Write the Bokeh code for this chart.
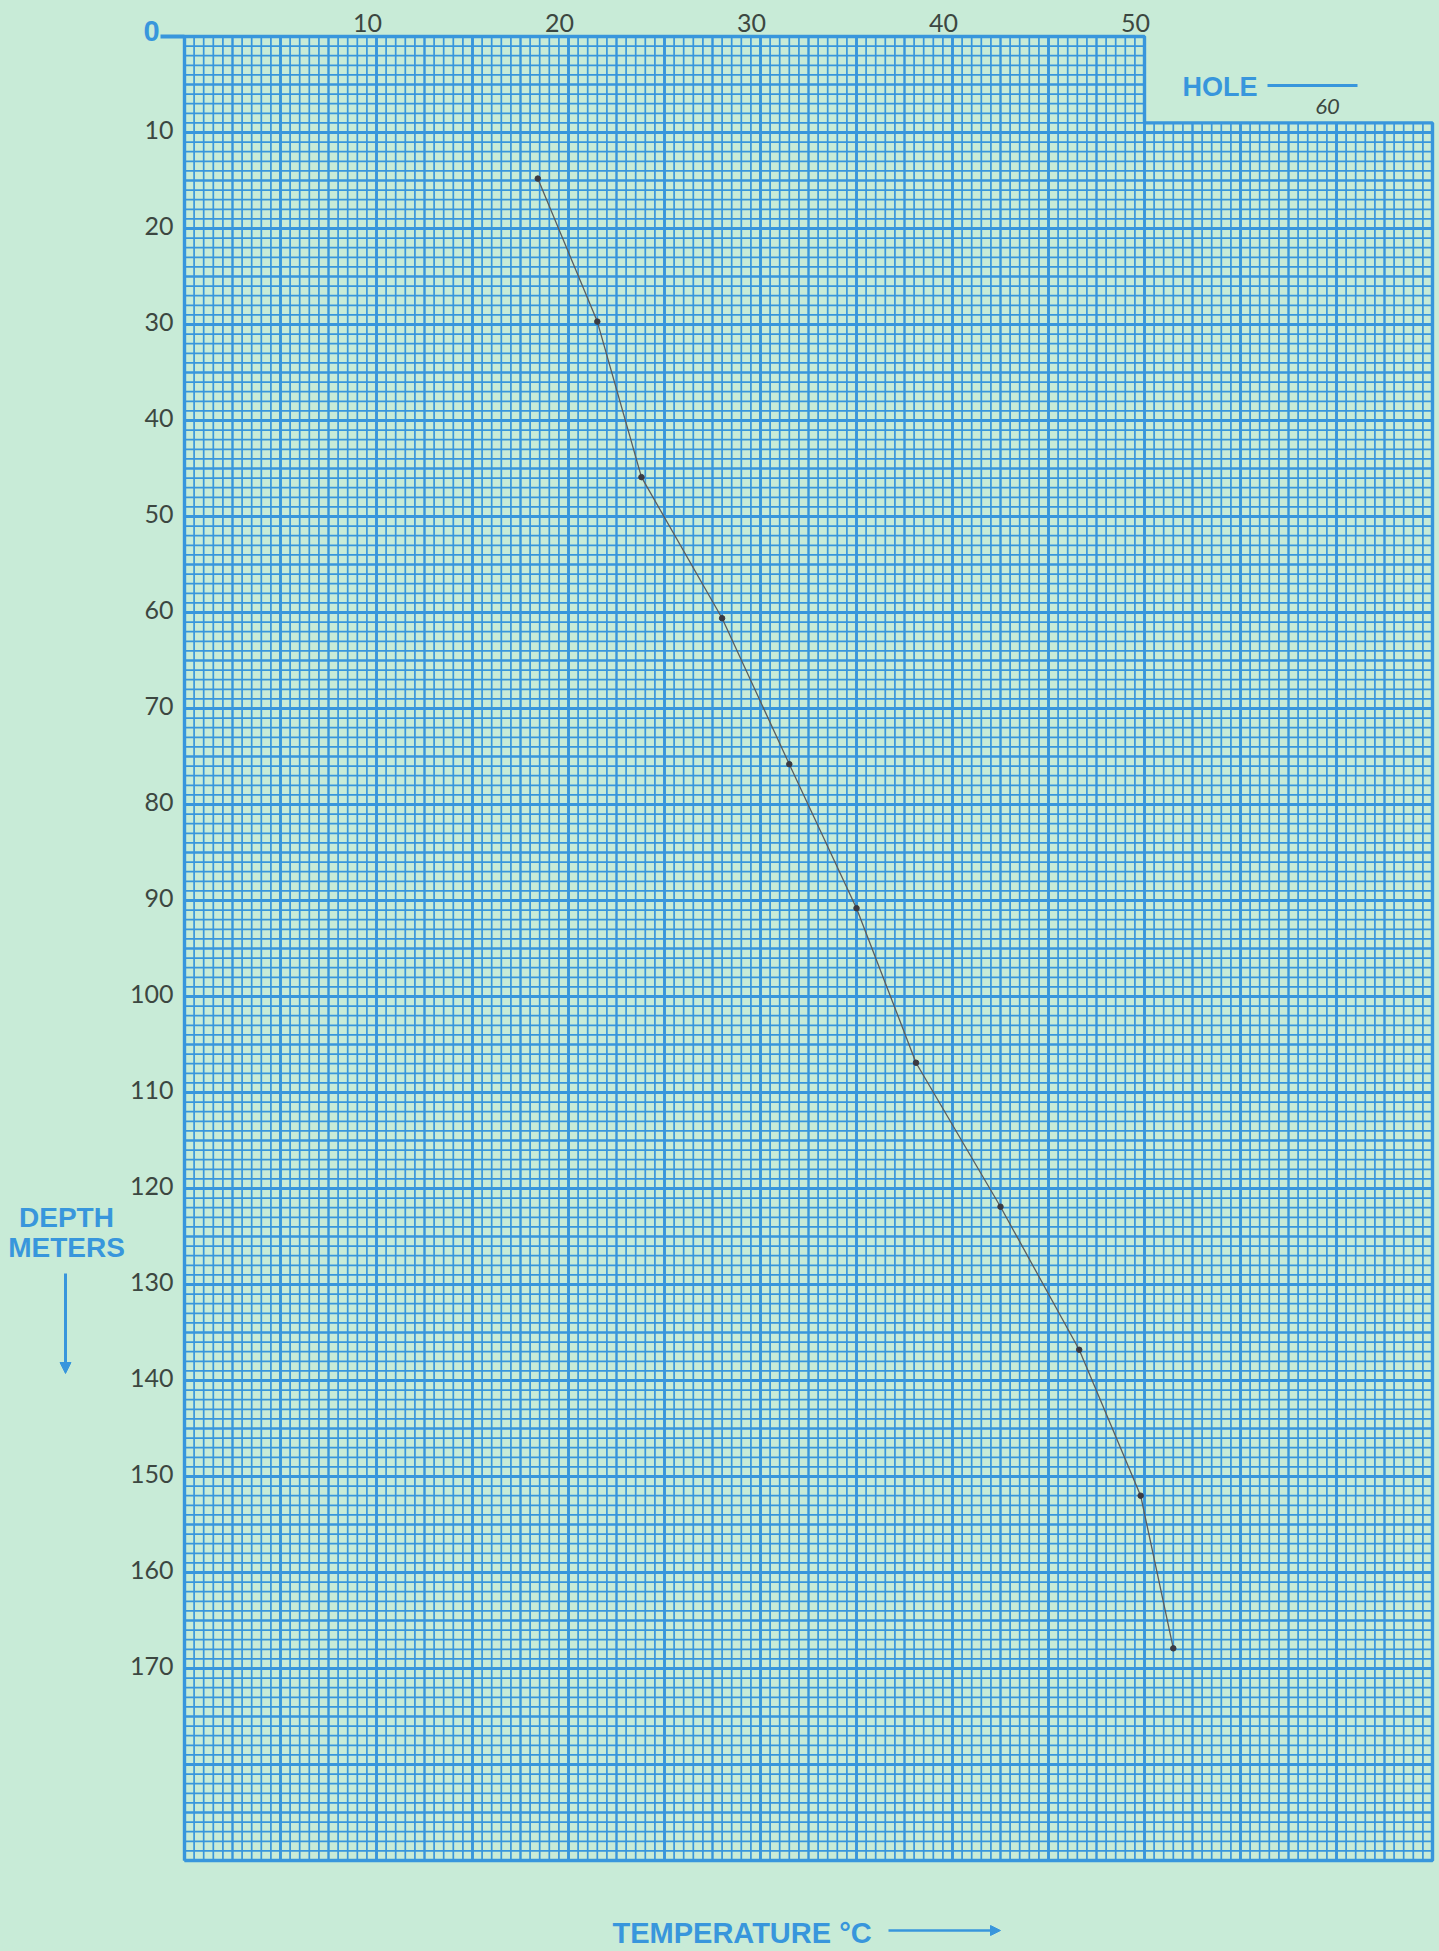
import numpy as np
from bokeh.plotting import figure
from bokeh.models import Range1d, Arrow, NormalHead
from bokeh.core.properties import value
from bokeh.embed import file_html
from bokeh.resources import INLINE

# ---------------- data ----------------
temperature_c = [18.4, 21.5, 23.8, 28.0, 31.5, 35.0, 38.1, 42.5, 46.6, 49.8, 51.5]
depth_m = [14.8, 29.7, 45.9, 60.6, 75.8, 90.8, 106.9, 121.9, 136.8, 152.0, 167.9]

x_tick_values = [10, 20, 30, 40, 50]
x_tick_labels = ["10", "20", "30", "40", "50"]
y_tick_values = [10, 20, 30, 40, 50, 60, 70, 80, 90, 100, 110, 120, 130, 140, 150, 160, 170]
y_tick_labels = ["10", "20", "30", "40", "50", "60", "70", "80", "90", "100", "110",
                 "120", "130", "140", "150", "160", "170"]
hole_number = ["60"]
hole_label = ["HOLE"]
x_title = ["TEMPERATURE °C"]
y_title = ["DEPTH", "METERS"]
origin_label = ["0"]

# ---------------- paper / layout ----------------
T_MAX, D_MAX = 65.0, 190.0          # grid extent (°C, m)
NOTCH_T, NOTCH_D = 50.0, 9.0        # cut-out in the upper right corner
W, H = 1439, 1951
LEFT, TOP = 184, 36                 # pixel position of the grid origin
PX_T, PX_D = 19.2, 9.6              # pixels per °C and per metre

BG = "#c8ebd7"
BLUE = "#3896dc"
INK = "#3c4741"
PEN = "#5a5d5e"


def t_of(px):
    return (px - LEFT) / PX_T


def d_of(py):
    return (py - TOP) / PX_D


p = figure(width=W, height=H, min_border=0, toolbar_location=None,
           output_backend="svg", x_axis_location=None, y_axis_location=None,
           x_range=Range1d(t_of(0), t_of(W)), y_range=Range1d(d_of(H), d_of(0)),
           background_fill_color=BG, border_fill_color=BG, outline_line_color=None)
p.xgrid.visible = False
p.ygrid.visible = False

# ---------------- graph-paper grid ----------------
levels = {0: ([], [], [], []), 1: ([], [], [], []), 2: ([], [], [], [])}
for i, t in enumerate(np.arange(0, T_MAX + 1e-9, 0.5)):
    lvl = 2 if i % 10 == 0 else (1 if i % 5 == 0 else 0)
    y0 = 0.0 if t <= NOTCH_T + 1e-9 else NOTCH_D
    L = levels[lvl]
    L[0].append(t); L[1].append(y0); L[2].append(t); L[3].append(D_MAX)
for j, d in enumerate(np.arange(0, D_MAX + 1e-9, 1.0)):
    lvl = 2 if j % 10 == 0 else (1 if j % 5 == 0 else 0)
    x1 = NOTCH_T if d < NOTCH_D - 1e-9 else T_MAX
    L = levels[lvl]
    L[0].append(0.0); L[1].append(d); L[2].append(x1); L[3].append(d)

widths = {0: 1.7, 1: 2.4, 2: 2.9}
for lvl in (0, 1, 2):
    x0, y0, x1, y1 = levels[lvl]
    p.segment(x0=x0, y0=y0, x1=x1, y1=y1, line_color=BLUE, line_width=widths[lvl])

# outer border of the paper grid
p.line(x=[0, 0, NOTCH_T, NOTCH_T, T_MAX, T_MAX, 0],
       y=[D_MAX, 0, 0, NOTCH_D, NOTCH_D, D_MAX, D_MAX],
       line_color=BLUE, line_width=3.4)

# ---------------- data ----------------
p.line(x=temperature_c, y=depth_m, line_color=PEN, line_width=1.3)
p.scatter(x=temperature_c, y=depth_m, size=5.5, fill_color="#3a3a42",
          line_color="#3a3a42")

# ---------------- hand-written tick labels ----------------
hand = value("Lato")
p.text(x=[0] * len(y_tick_values), y=y_tick_values, text=y_tick_labels,
       x_offset=-11, y_offset=-3, text_align="right", text_baseline="middle",
       text_font=hand, text_font_size="25px", text_color=INK)
p.text(x=x_tick_values, y=[0] * len(x_tick_values), text=x_tick_labels,
       x_offset=-9, y_offset=-5, text_align="center", text_baseline="bottom",
       text_font=hand, text_font_size="25px", text_color=INK)
p.text(x=[60], y=[NOTCH_D], text=hole_number, x_offset=-9, y_offset=-16,
       text_align="center", text_baseline="middle", text_font=hand,
       text_font_size="22px", text_font_style="italic", text_color=INK)

# ---------------- printed (blue) lettering ----------------
printed = value("Liberation Sans")
p.text(x=[0], y=[0], text=origin_label, x_offset=-33, y_offset=-6,
       text_align="center", text_baseline="middle", text_font=printed,
       text_font_size="29px", text_font_style="bold", text_color=BLUE)
p.line(x=[t_of(160), 0], y=[0, 0], line_color=BLUE, line_width=4)

p.text(x=[t_of(1182)], y=[d_of(86)], text=hole_label, text_align="left",
       text_baseline="middle", text_font=printed, text_font_size="27px",
       text_font_style="bold", text_color=BLUE)
p.line(x=[t_of(1267), t_of(1357)], y=[d_of(85), d_of(85)], line_color=BLUE, line_width=3)

p.text(x=[t_of(66), t_of(66)], y=[d_of(1217), d_of(1247)], text=y_title,
       text_align="center", text_baseline="middle", text_font=printed,
       text_font_size="28px", text_font_style="bold", text_color=BLUE)
p.add_layout(Arrow(end=NormalHead(size=11, fill_color=BLUE, line_color=BLUE),
                   x_start=t_of(65), y_start=d_of(1273), x_end=t_of(65), y_end=d_of(1373),
                   line_color=BLUE, line_width=3))

p.text(x=[t_of(612)], y=[d_of(1932)], text=x_title, text_align="left",
       text_baseline="middle", text_font=printed, text_font_size="29px",
       text_font_style="bold", text_color=BLUE)
p.add_layout(Arrow(end=NormalHead(size=10, fill_color=BLUE, line_color=BLUE),
                   x_start=t_of(888), y_start=d_of(1930), x_end=t_of(1000), y_end=d_of(1930),
                   line_color=BLUE, line_width=2.5))

html = file_html(p, INLINE, title="Temperature vs depth")
html = html.replace("<head>", "<head><style>html,body{margin:0;padding:0;background:"
                    + BG + ";overflow:hidden}</style>", 1)
open("out.html", "w").write(html)
